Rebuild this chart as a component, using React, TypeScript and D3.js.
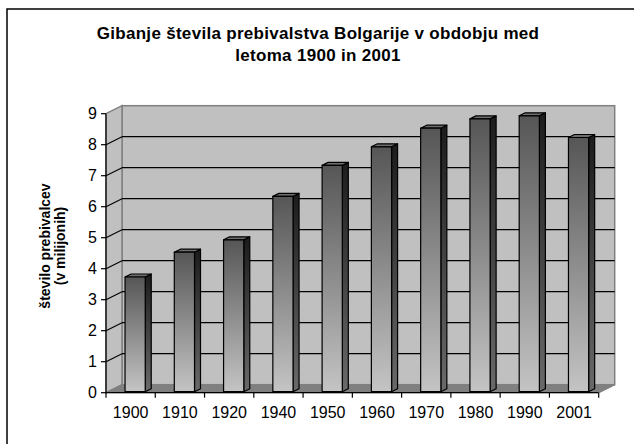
import React from "react";
import * as d3 from "d3";

const years = ["1900", "1910", "1920", "1940", "1950", "1960", "1970", "1980", "1990", "2001"];
const population = [3.7, 4.5, 4.9, 6.3, 7.3, 7.9, 8.5, 8.8, 8.9, 8.2];
const yTicks = [0, 1, 2, 3, 4, 5, 6, 7, 8, 9];
const titleLines = ["Gibanje števila prebivalstva Bolgarije v obdobju med", "letoma 1900 in 2001"];
const yTitleLines = ["število prebivalcev", "(v milijonih)"];

const W = 634;
const H = 444;
const FONT = "'Liberation Sans', Arial, sans-serif";

// front plane of the plot
const left = 106;
const right = 598.7;
const bottom = 392.7;
const top = 113.7;
// 3D depth offset of the back wall
const DX = 16;
const DY = 8;
// bar placement inside the depth
const BF_X = 4.5;
const BF_Y = 1;
const BD_X = 6;
const BD_Y = 3;

export default function App() {
  const x = d3.scaleBand<string>().domain(years).range([left, right]).paddingInner(0.59).paddingOuter(0.295);
  const xCat = d3.scaleBand<string>().domain(years).range([left, right]);
  const y = d3.scaleLinear().domain([0, 9]).range([bottom, top]);

  const pts = (p: number[][]) => p.map((q) => q.join(",")).join(" ");

  return (
    <svg width={W} height={H} style={{ position: "absolute", left: 0, top: 0, background: "#fff" }}>
      <defs>
        <linearGradient id="front" x1="0" y1="0" x2="0" y2="1">
          <stop offset="0%" stopColor="#565656" />
          <stop offset="100%" stopColor="#c4c4c4" />
        </linearGradient>
        <linearGradient id="side" x1="0" y1="0" x2="0" y2="1">
          <stop offset="0%" stopColor="#1c1c1c" />
          <stop offset="100%" stopColor="#6a6a6a" />
        </linearGradient>
      </defs>
      <rect x={7} y={9} width={W} height={H} fill="#fff" stroke="#000" strokeWidth={1.5} />

      {titleLines.map((t, i) => (
        <text
          key={t}
          x={318}
          y={39 + i * 22}
          textAnchor="middle"
          fontFamily={FONT}
          fontWeight="bold"
          fontSize={17}
          letterSpacing={0.3}
          fill="#000"
        >
          {t}
        </text>
      ))}

      {yTitleLines.map((t, i) => (
        <text
          key={t}
          transform={`translate(${50 + i * 15},246) rotate(-90)`}
          textAnchor="middle"
          fontFamily={FONT}
          fontWeight="bold"
          fontSize={14}
          fill="#000"
        >
          {t}
        </text>
      ))}

      {/* back wall */}
      <rect x={left + DX} y={y(9) - DY} width={right - left} height={bottom - top} fill="#c0c0c0" stroke="#808080" strokeWidth={1.5} />
      {/* side wall */}
      <polygon
        points={pts([[left, y(9)], [left + DX, y(9) - DY], [left + DX, y(0) - DY], [left, y(0)]])}
        fill="#c0c0c0"
        stroke="#808080"
        strokeWidth={1.5}
      />
      {/* floor */}
      <polygon
        points={pts([[left, y(0)], [left + DX, y(0) - DY], [right + DX, y(0) - DY], [right, y(0)]])}
        fill="#808080"
        stroke="#808080"
        strokeWidth={1}
      />

      {/* gridlines */}
      {yTicks.filter((v) => v > 0 && v < 9).map((v) => (
        <g key={v}>
          <line x1={left + DX} x2={right + DX} y1={y(v) - DY} y2={y(v) - DY} stroke="#000" strokeWidth={1.2} />
          <line x1={left} x2={left + DX} y1={y(v)} y2={y(v) - DY} stroke="#000" strokeWidth={1.2} />
        </g>
      ))}

      {/* bars */}
      {years.map((yr, i) => {
        const x0 = (x(yr) as number) + BF_X;
        const x1 = x0 + x.bandwidth();
        const yb = y(0) - BF_Y;
        const yt = y(population[i]) - BF_Y;
        return (
          <g key={yr} stroke="#000" strokeWidth={1.2} strokeLinejoin="round">
            <polygon points={pts([[x1, yt], [x1 + BD_X, yt - BD_Y], [x1 + BD_X, yb - BD_Y], [x1, yb]])} fill="url(#side)" />
            <polygon points={pts([[x0, yt], [x0 + BD_X, yt - BD_Y], [x1 + BD_X, yt - BD_Y], [x1, yt]])} fill="#6e6e6e" />
            <rect x={x0} y={yt} width={x1 - x0} height={yb - yt} fill="url(#front)" />
          </g>
        );
      })}

      {/* y axis */}
      <line x1={left} x2={left} y1={y(9)} y2={y(0)} stroke="#000" strokeWidth={1.2} />
      {yTicks.map((v) => (
        <g key={v}>
          <line x1={left - 5} x2={left} y1={y(v)} y2={y(v)} stroke="#000" strokeWidth={1.2} />
          <text x={97} y={y(v)} dy="0.36em" textAnchor="end" fontFamily={FONT} fontSize={16} fill="#000">
            {v}
          </text>
        </g>
      ))}

      {/* x axis */}
      <line x1={left} x2={right} y1={y(0)} y2={y(0)} stroke="#000" strokeWidth={1.2} />
      <line x1={right} x2={right + DX} y1={y(0)} y2={y(0) - DY} stroke="#808080" strokeWidth={1.2} />
      {years.map((yr) => (
        <g key={yr}>
          <line x1={xCat(yr) as number} x2={xCat(yr) as number} y1={y(0)} y2={y(0) + 5} stroke="#000" strokeWidth={1.2} />
          <text x={(xCat(yr) as number) + xCat.bandwidth() / 2} y={418} textAnchor="middle" fontFamily={FONT} fontSize={16} fill="#000">
            {yr}
          </text>
        </g>
      ))}
      <line x1={right} x2={right} y1={y(0)} y2={y(0) + 5} stroke="#000" strokeWidth={1.2} />
    </svg>
  );
}
